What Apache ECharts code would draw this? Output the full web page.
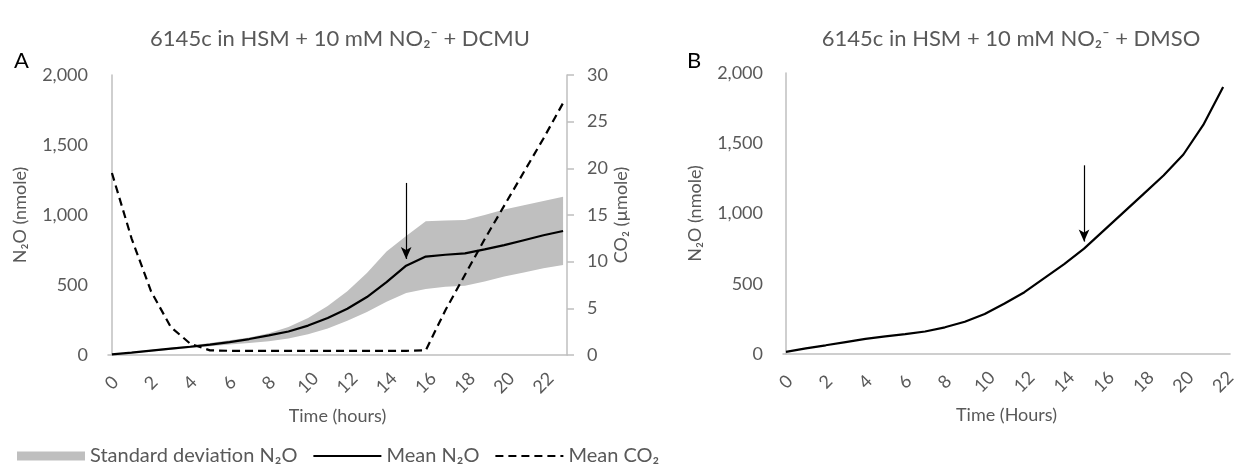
<!DOCTYPE html>
<html>
<head>
<meta charset="utf-8">
<script src="https://cdn.jsdelivr.net/npm/echarts@6/dist/echarts.min.js"></script>
<style>
  html, body { margin: 0; padding: 0; background: #fff; }
  #chart { width: 1239px; height: 465px; }
</style>
</head>
<body>
<div id="chart"></div>
<script>
// panel A : 6145c + DCMU (hourly readings)
var hoursA = [0, 1, 2, 3, 4, 5, 6, 7, 8, 9, 10, 11, 12, 13, 14, 15, 16, 17, 18, 19, 20, 21, 22, 23]
var meanN2oA = [5, 17, 31, 45, 59, 74, 92, 114, 140, 168, 210, 265, 330, 414, 520, 638, 703, 716, 726, 755, 785, 820, 855, 886]
var sdLowA = [2, 12, 25, 38, 50, 63, 75, 86, 98, 118, 148, 190, 245, 307, 380, 443, 472, 487, 495, 525, 560, 590, 620, 643]
var sdHighA = [8, 22, 38, 52, 68, 85, 105, 125, 155, 200, 265, 350, 455, 586, 740, 850, 955, 960, 965, 1000, 1040, 1070, 1100, 1130]
var meanCo2A = [19.5, 12.5, 6.8, 3.0, 1.2, 0.5, 0.45, 0.45, 0.45, 0.45, 0.45, 0.45, 0.45, 0.45, 0.45, 0.45, 0.5, 4.8, 8.6, 12.4, 16.0, 19.6, 23.2, 27.0]

// panel B : 6145c + DMSO
var hoursB = [0, 1, 2, 3, 4, 5, 6, 7, 8, 9, 10, 11, 12, 13, 14, 15, 16, 17, 18, 19, 20, 21, 22]
var meanN2oB = [15, 40, 62, 85, 108, 125, 142, 160, 190, 230, 285, 360, 440, 540, 640, 750, 880, 1010, 1140, 1270, 1420, 1630, 1900]

var hourTicks = [0, 2, 4, 6, 8, 10, 12, 14, 16, 18, 20, 22]
var arrowHour = 15
var arrowA = [1229, 686]   // N2O values: tail, head
var arrowB = [1343, 800]

var FONT = 'Lato, "Noto Sans", sans-serif'
var GREY_TEXT = '#595959'
var AXIS_GREY = '#bfbfbf'
var BAND_GREY = '#bfbfbf'

function pairs(xs, ys) {
  return xs.map(function (x, i) { return [x, ys[i]] })
}

function arrowLine(vals) {
  return {
    silent: true,
    symbol: ['none', 'arrow'],
    symbolSize: [8, 12],
    label: { show: false },
    lineStyle: { color: '#000', width: 1.2, type: 'solid' },
    data: [[{ coord: [arrowHour, vals[0]] }, { coord: [arrowHour, vals[1]] }]]
  }
}

// shaded band between sdLowA and sdHighA, drawn as one polygon
function renderBand(params, api) {
  if (params.dataIndex !== 0) return null
  var pts = []
  for (var i = 0; i < hoursA.length; i++) pts.push(api.coord([hoursA[i], sdHighA[i]]))
  for (var j = hoursA.length - 1; j >= 0; j--) pts.push(api.coord([hoursA[j], sdLowA[j]]))
  return {
    type: 'polygon',
    shape: { points: pts },
    style: { fill: BAND_GREY }
  }
}

function timeAxis(grid, min, max, name) {
  return {
    type: 'value',
    gridIndex: grid,
    min: min,
    max: max,
    name: name,
    nameLocation: 'middle',
    nameGap: 52,
    nameTextStyle: { color: GREY_TEXT, fontSize: 18, fontFamily: FONT },
    axisLine: { show: true, lineStyle: { color: AXIS_GREY, width: 1.5 } },
    axisTick: { show: false },
    splitLine: { show: false },
    axisLabel: {
      customValues: hourTicks,
      rotate: 45,
      align: 'center',
      verticalAlign: 'middle',
      margin: 28,
      color: GREY_TEXT,
      fontSize: 18,
      fontFamily: FONT
    }
  }
}

function n2oAxis(grid, gap) {
  return {
    type: 'value',
    gridIndex: grid,
    min: 0,
    max: 2000,
    interval: 500,
    name: 'N₂O (nmole)',
    nameLocation: 'middle',
    nameGap: gap,
    nameRotate: 90,
    nameTextStyle: { color: GREY_TEXT, fontSize: 18, fontFamily: FONT },
    axisLine: { show: true, lineStyle: { color: AXIS_GREY, width: 1.5 } },
    axisTick: { show: false },
    splitLine: { show: false },
    axisLabel: {
      margin: 20,
      color: GREY_TEXT,
      fontSize: 18,
      fontFamily: FONT,
      formatter: function (v) { return v.toLocaleString('en-US') }
    }
  }
}

var chart = echarts.init(document.getElementById('chart'))

var option = {
  animation: false,
  backgroundColor: '#fff',
  textStyle: { fontFamily: FONT },
  title: [
    {
      text: '6145c in HSM + 10 mM NO₂⁻ + DCMU',
      left: 335, top: 23, textAlign: 'center',
      textStyle: { color: GREY_TEXT, fontSize: 22, fontWeight: 'normal', fontFamily: FONT }
    },
    {
      text: '6145c in HSM + 10 mM NO₂⁻ + DMSO',
      left: 1006, top: 23, textAlign: 'center',
      textStyle: { color: GREY_TEXT, fontSize: 22, fontWeight: 'normal', fontFamily: FONT }
    }
  ],
  graphic: [
    { type: 'text', left: 14, top: 50, style: { text: 'A', font: '22px ' + FONT, fill: '#000' } },
    { type: 'text', left: 687, top: 50, style: { text: 'B', font: '22px ' + FONT, fill: '#000' } }
  ],
  legend: {
    left: 12,
    top: 441,
    itemWidth: 68,
    itemHeight: 9,
    itemGap: 15,
    textStyle: { color: GREY_TEXT, fontSize: 20, fontFamily: FONT },
    data: [
      { name: 'Standard deviation N₂O', icon: 'rect', itemStyle: { color: BAND_GREY } },
      { name: 'Mean N₂O', itemStyle: { opacity: 0 } },
      { name: 'Mean CO₂', itemStyle: { opacity: 0 } }
    ]
  },
  grid: [
    { left: 108, top: 75, width: 459, height: 280 },
    { left: 783, top: 73, width: 456, height: 281 }
  ],
  xAxis: [
    timeAxis(0, -0.2, 23.2, 'Time (hours)'),
    timeAxis(1, -0.15, 22.35, 'Time (Hours)')
  ],
  yAxis: [
    n2oAxis(0, 79),
    {
      type: 'value',
      gridIndex: 0,
      position: 'right',
      min: 0,
      max: 30,
      interval: 5,
      name: 'CO₂ (µmole)',
      nameLocation: 'middle',
      nameGap: 45,
      nameMoveOverlap: false,
      nameRotate: 90,
      nameTextStyle: { color: GREY_TEXT, fontSize: 18, fontFamily: FONT },
      axisLine: { show: true, lineStyle: { color: AXIS_GREY, width: 1.5 } },
      axisTick: { show: true, length: 7, lineStyle: { color: AXIS_GREY, width: 1.5 } },
      splitLine: { show: false },
      axisLabel: { margin: 20, color: GREY_TEXT, fontSize: 18, fontFamily: FONT }
    },
    n2oAxis(1, 79)
  ],
  series: [
    {
      name: 'Standard deviation N₂O',
      type: 'custom',
      xAxisIndex: 0,
      yAxisIndex: 0,
      silent: true,
      itemStyle: { color: BAND_GREY },
      encode: { x: 0, y: [1, 2] },
      data: hoursA.map(function (h, i) { return [h, sdLowA[i], sdHighA[i]] }),
      renderItem: renderBand
    },
    {
      name: 'Mean N₂O',
      type: 'line',
      xAxisIndex: 0,
      yAxisIndex: 0,
      symbol: 'none',
      z: 3,
      itemStyle: { color: '#000' },
      lineStyle: { color: '#000', width: 2.2 },
      data: pairs(hoursA, meanN2oA),
      markLine: arrowLine(arrowA)
    },
    {
      name: 'Mean CO₂',
      type: 'line',
      xAxisIndex: 0,
      yAxisIndex: 1,
      symbol: 'none',
      z: 3,
      itemStyle: { color: '#000' },
      lineStyle: { color: '#000', width: 2.2, type: [8, 5] },
      data: pairs(hoursA, meanCo2A)
    },
    {
      name: 'DMSO N₂O',
      type: 'line',
      xAxisIndex: 1,
      yAxisIndex: 2,
      symbol: 'none',
      itemStyle: { color: '#000' },
      lineStyle: { color: '#000', width: 2.2 },
      data: pairs(hoursB, meanN2oB),
      markLine: arrowLine(arrowB)
    }
  ]
}

chart.setOption(option)
</script>
</body>
</html>
